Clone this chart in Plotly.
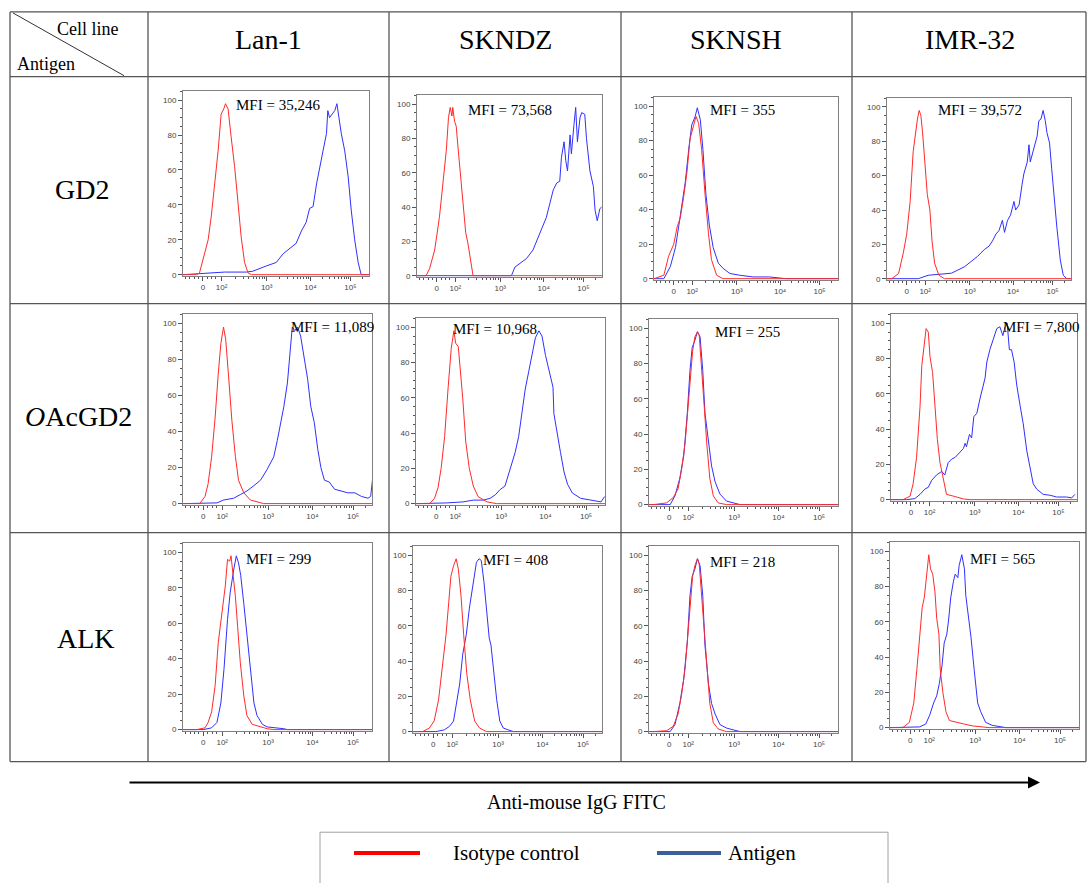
import math
import plotly.graph_objects as go

W, H = 1088, 883

# ---------------------------------------------------------------------------
# Labels
# ---------------------------------------------------------------------------
cell_lines = ["Lan-1", "SKNDZ", "SKNSH", "IMR-32"]
antigens = ["GD2", "<i>O</i>AcGD2", "ALK"]
mfi_labels = [
    ["35,246", "73,568", "355", "39,572"],
    ["11,089", "10,968", "255", "7,800"],
    ["299", "408", "218", "565"],
]

# Biexponential display axis: positions (in display units) of the labelled decades
x_tick_pos = [0, 0.43, 1.47, 2.48, 3.40]
x_tick_text = ["0", "10\u00b2", "10\u00b3", "10\u2074", "10\u2075"]
y_tick_pos = [0, 20, 40, 60, 80, 100]

# ---------------------------------------------------------------------------
# Histograms (x = display position on the FITC axis, y = % of max)
# ---------------------------------------------------------------------------
# GD2
gd2_lan1_iso_x = [-0.46, -0.15, -0.08, 0.12, 0.19, 0.27, 0.35, 0.42, 0.48, 0.52, 0.58, 0.65, 0.73, 0.81, 0.88, 0.96, 1.04, 1.12, 3.83]
gd2_lan1_iso_y = [0, 0, 1, 20, 33, 52, 71, 92, 95, 98, 95, 79, 62, 41, 22, 7, 1, 0, 0]
gd2_lan1_ag_x = [-0.46, -0.1, 0, 0.5, 1.0, 1.15, 1.46, 1.69, 1.85, 2.0, 2.15, 2.27, 2.38, 2.46, 2.54, 2.62, 2.69, 2.77, 2.85, 2.88, 2.92, 2.98, 3.04, 3.09, 3.14, 3.19, 3.27, 3.35, 3.42, 3.5, 3.58, 3.65, 3.83]
gd2_lan1_ag_y = [0, 0.5, 1, 1.5, 1.5, 2, 5, 7, 12, 15, 18, 25, 30, 38, 39, 52, 62, 71, 81, 94, 90, 92, 94, 98, 90, 81, 71, 56, 37, 20, 7, 0, 0]

gd2_skndz_iso_x = [-0.46, -0.25, -0.17, -0.05, 0.06, 0.14, 0.22, 0.27, 0.31, 0.35, 0.37, 0.41, 0.45, 0.49, 0.54, 0.6, 0.67, 0.72, 0.78, 0.84, 3.83]
gd2_skndz_iso_y = [0, 0, 4, 15, 34, 54, 73, 92, 98, 93, 98, 90, 87, 75, 61, 44, 25, 19, 8, 0, 0]
gd2_skndz_ag_x = [-0.46, 1.73, 1.81, 1.92, 2.08, 2.23, 2.39, 2.47, 2.54, 2.62, 2.7, 2.78, 2.85, 2.89, 2.95, 2.99, 3.03, 3.09, 3.12, 3.18, 3.22, 3.26, 3.32, 3.36, 3.43, 3.47, 3.55, 3.63, 3.67, 3.72, 3.78, 3.82]
gd2_skndz_ag_y = [0, 0, 5, 7, 10, 15, 25, 29, 34, 42, 50, 54, 55, 69, 78, 67, 61, 82, 71, 88, 98, 78, 92, 95, 94, 80, 61, 52, 38, 32, 39, 40]

gd2_sknsh_iso_x = [-0.46, -0.23, -0.12, 0, 0.08, 0.15, 0.23, 0.31, 0.38, 0.46, 0.52, 0.58, 0.65, 0.73, 0.81, 0.88, 1.0, 1.15, 3.83]
gd2_sknsh_iso_y = [0, 2, 13, 20, 30, 35, 47, 62, 81, 89, 94, 90, 75, 49, 26, 11, 2, 0, 0]
gd2_sknsh_ag_x = [-0.46, -0.23, -0.08, 0.04, 0.12, 0.19, 0.27, 0.35, 0.42, 0.5, 0.55, 0.62, 0.68, 0.75, 0.83, 0.92, 1.04, 1.15, 1.31, 1.54, 1.85, 2.23, 2.54, 2.62, 3.83]
gd2_sknsh_ag_y = [0, 0, 7, 18, 31, 43, 56, 75, 89, 94, 99, 92, 75, 49, 31, 18, 9, 6, 3, 2, 1, 1, 0.5, 0, 0]

gd2_imr32_iso_x = [-0.46, -0.35, -0.19, -0.08, 0, 0.08, 0.15, 0.19, 0.25, 0.29, 0.33, 0.37, 0.42, 0.48, 0.54, 0.59, 0.65, 0.75, 0.88, 3.83]
gd2_imr32_iso_y = [0, 0, 3, 15, 26, 45, 74, 83, 93, 98, 95, 85, 70, 49, 40, 22, 9, 2, 0, 0]
gd2_imr32_ag_x = [-0.46, -0.04, 0.27, 0.5, 0.73, 0.88, 1.04, 1.19, 1.35, 1.5, 1.65, 1.81, 1.92, 2.0, 2.08, 2.15, 2.23, 2.28, 2.35, 2.42, 2.5, 2.54, 2.62, 2.69, 2.73, 2.81, 2.85, 2.88, 2.96, 3.04, 3.08, 3.13, 3.18, 3.23, 3.27, 3.33, 3.38, 3.44, 3.5, 3.58, 3.65, 3.73, 3.83]
gd2_imr32_ag_y = [0, 0, 0, 2, 2.5, 3, 3.2, 5, 7, 10, 13, 17, 19, 22, 26, 28, 34, 27, 34, 37, 45, 40, 43, 55, 61, 68, 78, 68, 75, 83, 92, 93, 98, 92, 85, 79, 64, 45, 30, 11, 2, 0, 0]

# OAcGD2
oac_lan1_iso_x = [-0.46, -0.08, 0.04, 0.11, 0.19, 0.27, 0.34, 0.4, 0.46, 0.51, 0.57, 0.65, 0.73, 0.8, 0.92, 1.07, 1.37, 3.83]
oac_lan1_iso_y = [0, 0, 4, 11, 26, 48, 72, 89, 98, 91, 72, 46, 26, 13, 6, 2, 0, 0]
oac_lan1_ag_x = [-0.46, -0.04, 0.31, 0.46, 0.69, 0.84, 0.99, 1.15, 1.3, 1.45, 1.6, 1.68, 1.76, 1.83, 1.91, 1.97, 2.02, 2.08, 2.14, 2.21, 2.29, 2.37, 2.44, 2.52, 2.6, 2.67, 2.75, 2.86, 2.98, 3.13, 3.28, 3.44, 3.59, 3.74, 3.8, 3.84]
oac_lan1_ag_y = [0, 0, 0.4, 2, 3, 5, 7, 10, 13, 19, 26, 35, 45, 54, 67, 85, 98, 96, 98, 93, 82, 69, 54, 45, 30, 20, 13, 12, 8, 7, 6, 6, 4, 3, 4, 13]

oac_skndz_iso_x = [-0.46, -0.15, -0.04, 0.04, 0.11, 0.19, 0.27, 0.34, 0.4, 0.44, 0.5, 0.53, 0.6, 0.67, 0.75, 0.84, 0.95, 1.15, 1.37, 3.83]
oac_skndz_iso_y = [0, 0, 3, 9, 20, 38, 66, 88, 98, 91, 89, 81, 60, 35, 20, 10, 4, 1, 0, 0]
oac_skndz_ag_x = [-0.46, -0.08, 0.23, 0.61, 0.84, 1.07, 1.22, 1.34, 1.45, 1.56, 1.68, 1.79, 1.87, 1.95, 2.02, 2.1, 2.18, 2.25, 2.33, 2.4, 2.48, 2.56, 2.61, 2.65, 2.67, 2.75, 2.82, 2.9, 2.98, 3.09, 3.28, 3.51, 3.74, 3.82]
oac_skndz_ag_y = [0, 0, 0.4, 1, 2, 2, 3, 5, 8, 10, 20, 29, 38, 53, 65, 75, 86, 94, 98, 95, 84, 75, 70, 66, 51, 38, 29, 18, 11, 6, 3, 2, 1, 4]

oac_sknsh_iso_x = [-0.46, -0.36, -0.06, 0.09, 0.2, 0.28, 0.36, 0.43, 0.48, 0.53, 0.58, 0.64, 0.68, 0.73, 0.79, 0.85, 0.92, 1.0, 1.11, 1.3, 3.83]
oac_sknsh_iso_y = [0, 0, 1, 4, 9, 20, 35, 57, 76, 87, 95, 98, 96, 80, 57, 35, 15, 5, 1, 0, 0]
oac_sknsh_ag_x = [-0.46, 0.02, 0.13, 0.24, 0.33, 0.41, 0.47, 0.52, 0.58, 0.64, 0.7, 0.76, 0.81, 0.89, 0.96, 1.04, 1.15, 1.3, 1.45, 1.57, 1.61, 3.83]
oac_sknsh_ag_y = [0, 0, 5, 15, 28, 52, 76, 89, 93, 98, 95, 76, 52, 35, 22, 13, 6, 2, 1, 0.5, 0, 0]

oac_imr32_iso_x = [-0.46, -0.18, -0.02, 0.05, 0.13, 0.21, 0.25, 0.3, 0.35, 0.4, 0.44, 0.5, 0.55, 0.61, 0.67, 0.75, 0.82, 0.98, 1.21, 1.36, 3.83]
oac_imr32_iso_y = [0, 0, 2, 9, 24, 53, 76, 87, 97, 95, 81, 72, 53, 34, 21, 11, 3, 2, 0.4, 0, 0]
oac_imr32_ag_x = [-0.46, -0.1, 0.09, 0.21, 0.32, 0.4, 0.48, 0.59, 0.71, 0.78, 0.86, 0.94, 1.02, 1.09, 1.21, 1.25, 1.28, 1.35, 1.4, 1.45, 1.52, 1.59, 1.67, 1.71, 1.75, 1.82, 1.9, 1.98, 2.05, 2.12, 2.17, 2.22, 2.27, 2.32, 2.38, 2.44, 2.52, 2.59, 2.67, 2.75, 2.82, 2.9, 3.05, 3.21, 3.36, 3.59, 3.71, 3.78]
oac_imr32_ag_y = [0, 0, 0.6, 3, 6, 7, 11, 14, 16, 14, 21, 23, 24, 26, 29, 32, 30, 37, 35, 47, 49, 57, 66, 69, 78, 85, 91, 97, 98, 93, 98, 100, 85, 85, 78, 65, 53, 43, 28, 17, 9, 6, 3, 2.5, 1.5, 1.5, 1, 3]

# ALK
alk_lan1_iso_x = [-0.46, -0.15, 0.04, 0.11, 0.19, 0.27, 0.34, 0.42, 0.5, 0.55, 0.6, 0.63, 0.67, 0.73, 0.78, 0.84, 0.92, 0.99, 1.11, 1.3, 1.45, 1.6, 3.83]
alk_lan1_iso_y = [0, 0, 1, 4, 10, 25, 49, 66, 81, 96, 95, 98, 90, 75, 58, 38, 19, 8, 3, 1.5, 0.5, 0, 0]
alk_lan1_ag_x = [-0.46, 0, 0.19, 0.31, 0.4, 0.47, 0.55, 0.61, 0.69, 0.75, 0.8, 0.85, 0.92, 0.99, 1.07, 1.15, 1.22, 1.34, 1.45, 1.68, 1.83, 1.91, 3.83]
alk_lan1_ag_y = [0, 0, 1, 4, 15, 34, 62, 77, 90, 98, 94, 87, 71, 53, 32, 15, 8, 3, 1.5, 1, 0.5, 0, 0]

alk_skndz_iso_x = [-0.46, -0.24, -0.09, 0.02, 0.12, 0.21, 0.29, 0.35, 0.4, 0.46, 0.52, 0.57, 0.63, 0.69, 0.76, 0.84, 0.94, 1.05, 1.21, 3.83]
alk_skndz_iso_y = [0, 0, 2, 6, 18, 36, 55, 73, 88, 94, 98, 92, 77, 55, 33, 18, 6, 2, 0, 0]
alk_skndz_ag_x = [-0.46, 0.06, 0.25, 0.37, 0.46, 0.53, 0.6, 0.67, 0.75, 0.82, 0.9, 0.98, 1.04, 1.09, 1.15, 1.22, 1.27, 1.31, 1.36, 1.44, 1.51, 1.59, 1.7, 1.82, 3.83]
alk_skndz_ag_y = [0, 0, 1, 3, 6, 16, 27, 44, 55, 70, 83, 96, 98, 97, 85, 64, 53, 49, 36, 18, 6, 2, 1, 0, 0]

alk_sknsh_iso_x = [-0.46, -0.36, -0.06, 0.09, 0.2, 0.28, 0.36, 0.43, 0.48, 0.53, 0.58, 0.64, 0.68, 0.73, 0.79, 0.85, 0.92, 1.0, 1.11, 1.3, 3.83]
alk_sknsh_iso_y = [0, 0, 0.5, 3, 10, 21, 36, 58, 77, 88, 94, 98, 95, 79, 58, 36, 16, 5, 1.5, 0, 0]
alk_sknsh_ag_x = [-0.46, 0.02, 0.13, 0.24, 0.33, 0.41, 0.47, 0.52, 0.58, 0.64, 0.7, 0.76, 0.81, 0.89, 0.96, 1.04, 1.15, 1.3, 1.45, 1.57, 1.61, 3.83]
alk_sknsh_ag_y = [0, 0, 4, 16, 30, 51, 77, 88, 92, 98, 94, 77, 49, 27, 16, 10, 4, 2, 1, 0.5, 0, 0]

alk_imr32_iso_x = [-0.46, -0.17, -0.02, 0.08, 0.15, 0.21, 0.27, 0.32, 0.38, 0.42, 0.46, 0.51, 0.56, 0.6, 0.65, 0.68, 0.74, 0.81, 0.89, 1.04, 1.23, 1.41, 1.64, 1.79, 3.83]
alk_imr32_iso_y = [0, 0, 3, 14, 33, 51, 68, 74, 87, 98, 90, 87, 77, 62, 53, 33, 20, 9, 4, 3, 2, 1, 0.4, 0, 0]
alk_imr32_ag_x = [-0.46, -0.09, 0.21, 0.35, 0.44, 0.53, 0.6, 0.66, 0.72, 0.77, 0.83, 0.87, 0.92, 0.98, 1.02, 1.08, 1.11, 1.17, 1.23, 1.26, 1.32, 1.38, 1.45, 1.53, 1.6, 1.71, 1.86, 2.09, 2.17, 3.83]
alk_imr32_ag_y = [0, 0, 0.4, 2, 7, 14, 18, 25, 35, 48, 53, 61, 74, 83, 87, 85, 92, 98, 90, 75, 64, 51, 33, 14, 9, 3, 1.3, 0.4, 0, 0]

# Grid of (isotype, antigen) curves: rows = antigen, columns = cell line
curves = [
    [((gd2_lan1_iso_x, gd2_lan1_iso_y), (gd2_lan1_ag_x, gd2_lan1_ag_y)),
     ((gd2_skndz_iso_x, gd2_skndz_iso_y), (gd2_skndz_ag_x, gd2_skndz_ag_y)),
     ((gd2_sknsh_iso_x, gd2_sknsh_iso_y), (gd2_sknsh_ag_x, gd2_sknsh_ag_y)),
     ((gd2_imr32_iso_x, gd2_imr32_iso_y), (gd2_imr32_ag_x, gd2_imr32_ag_y))],
    [((oac_lan1_iso_x, oac_lan1_iso_y), (oac_lan1_ag_x, oac_lan1_ag_y)),
     ((oac_skndz_iso_x, oac_skndz_iso_y), (oac_skndz_ag_x, oac_skndz_ag_y)),
     ((oac_sknsh_iso_x, oac_sknsh_iso_y), (oac_sknsh_ag_x, oac_sknsh_ag_y)),
     ((oac_imr32_iso_x, oac_imr32_iso_y), (oac_imr32_ag_x, oac_imr32_ag_y))],
    [((alk_lan1_iso_x, alk_lan1_iso_y), (alk_lan1_ag_x, alk_lan1_ag_y)),
     ((alk_skndz_iso_x, alk_skndz_iso_y), (alk_skndz_ag_x, alk_skndz_ag_y)),
     ((alk_sknsh_iso_x, alk_sknsh_iso_y), (alk_sknsh_ag_x, alk_sknsh_ag_y)),
     ((alk_imr32_iso_x, alk_imr32_iso_y), (alk_imr32_ag_x, alk_imr32_ag_y))],
]

# ---------------------------------------------------------------------------
# Layout geometry (pixels)
# ---------------------------------------------------------------------------
col_edges = [10, 148, 389, 621, 852, 1086]
row_edges = [12, 77, 305, 535, 765]

# plot-area boxes (left, right, top, bottom) for each histogram panel
panel_boxes = [
    [(183, 369, 91, 277), (417, 602, 95, 278), (654, 838, 97, 281), (887, 1071, 98, 281)],
    [(183, 372, 315, 507), (416, 605, 319, 507), (649, 838, 320, 508), (891, 1077, 315, 503)],
    [(183, 372, 545, 734), (413, 602, 548, 736), (649, 838, 548, 736), (890, 1079, 544, 732)],
]
# MFI label centres (pixels)
mfi_pos = [
    [(278, 105), (510, 110), (742, 110), (980, 111)],
    [(332, 328), (495, 330), (747, 334), (1041, 328)],
    [(278, 562), (515, 563), (742, 565), (1002, 562)],
]

ISO_COLOR = "#ff2a2a"
AG_COLOR = "#2f2fff"
SERIF = "Liberation Serif"
SANS = "Liberation Sans, DejaVu Sans"


def px(x):
    return x / W


def py(y):
    return 1 - y / H


# minor ticks of the biexponential axis
x_minor = [-0.4, -0.3, -0.2, -0.1, 0.1, 0.2, 0.3]
for k in range(len(x_tick_pos) - 2):
    a, b = x_tick_pos[k + 1], x_tick_pos[k + 2]
    for m in range(2, 10):
        x_minor.append(a + math.log10(m) * (b - a))
x_minor.append(x_tick_pos[-1] + math.log10(2) * (x_tick_pos[-1] - x_tick_pos[-2]))

tick_font = dict(family=SANS, size=8, color="#444")

fig = go.Figure()
layout_axes = {}
idx = 0
for r in range(3):
    for c in range(4):
        idx += 1
        sfx = "" if idx == 1 else str(idx)
        (ix, iy), (ax_, ay_) = curves[r][c]
        fig.add_trace(go.Scatter(x=ax_, y=ay_, mode="lines",
                                 line=dict(color=AG_COLOR, width=1),
                                 xaxis="x" + sfx, yaxis="y" + sfx,
                                 showlegend=False, hoverinfo="skip"))
        fig.add_trace(go.Scatter(x=ix, y=iy, mode="lines",
                                 line=dict(color=ISO_COLOR, width=1),
                                 xaxis="x" + sfx, yaxis="y" + sfx,
                                 showlegend=False, hoverinfo="skip"))
        l, rr, t, b = panel_boxes[r][c]
        layout_axes["xaxis" + sfx] = dict(
            domain=[px(l), px(rr)], anchor="y" + sfx, range=[-0.46, 3.83],
            tickmode="array", tickvals=x_tick_pos, ticktext=x_tick_text,
            ticks="outside", ticklen=4, tickcolor="#555", tickwidth=1,
            tickfont=tick_font,
            showline=True, mirror=True, linecolor="#808080", linewidth=1,
            showgrid=False, zeroline=False, layer="below traces",
            minor=dict(tickvals=x_minor, ticks="outside", ticklen=2,
                       tickcolor="#555", showgrid=False),
        )
        layout_axes["yaxis" + sfx] = dict(
            domain=[py(b), py(t)], anchor="x" + sfx, range=[-0.6, 105.5],
            tickmode="array", tickvals=y_tick_pos,
            ticks="outside", ticklen=4, tickcolor="#555", tickwidth=1,
            tickfont=tick_font,
            showline=True, mirror=True, linecolor="#808080", linewidth=1,
            showgrid=False, zeroline=False, layer="below traces",
            minor=dict(dtick=5, ticks="outside", ticklen=2,
                       tickcolor="#555", showgrid=False),
        )

shapes = []
line_style = dict(color="#555555", width=1.3)
for x in col_edges:
    shapes.append(dict(type="line", xref="paper", yref="paper",
                       x0=px(x), x1=px(x), y0=py(row_edges[0]), y1=py(row_edges[-1]),
                       line=line_style))
for y in row_edges:
    shapes.append(dict(type="line", xref="paper", yref="paper",
                       x0=px(col_edges[0]), x1=px(col_edges[-1]), y0=py(y), y1=py(y),
                       line=line_style))
# diagonal in the corner header cell
shapes.append(dict(type="line", xref="paper", yref="paper",
                   x0=px(13), y0=py(13), x1=px(124), y1=py(76),
                   line=dict(color="#333", width=1)))
# legend box
shapes.append(dict(type="rect", xref="paper", yref="paper",
                   x0=px(320), x1=px(888), y0=py(836), y1=py(895),
                   line=dict(color="#a0a0a0", width=1)))
shapes.append(dict(type="line", xref="paper", yref="paper",
                   x0=px(354), x1=px(420), y0=py(857), y1=py(857),
                   line=dict(color="#ff0000", width=4)))
shapes.append(dict(type="line", xref="paper", yref="paper",
                   x0=px(657), x1=px(721), y0=py(857), y1=py(857),
                   line=dict(color="#3c5f9c", width=4)))

annotations = []


def text(x, y, s, size, xanchor="center", family=SERIF, color="#000"):
    annotations.append(dict(x=px(x), y=py(y), xref="paper", yref="paper",
                            text=s, showarrow=False, xanchor=xanchor,
                            yanchor="middle",
                            font=dict(family=family, size=size, color=color)))


text(88, 29, "Cell line", 18)
text(46, 64, "Antigen", 18)
for name, cx in zip(cell_lines, [268, 505, 736, 970]):
    text(cx, 40, name, 28)
for name, (cx, cy) in zip(antigens, [(82, 190), (78, 418), (86, 641)]):
    text(cx, cy, name, 28)
for r in range(3):
    for c in range(4):
        x, y = mfi_pos[r][c]
        text(x, y, "MFI = " + mfi_labels[r][c], 15)

# FITC axis arrow and title
annotations.append(dict(x=px(1040), y=py(786), xref="paper", yref="paper",
                        ax=-(1040 - 128), ay=0, text="", showarrow=True,
                        arrowhead=2, arrowsize=1.2, arrowwidth=2, arrowcolor="#000"))
text(576, 806, "Anti-mouse IgG FITC", 20)
text(451, 857, "Isotype control", 21, xanchor="left")
text(726, 857, "Antigen", 21, xanchor="left")

fig.update_layout(
    width=W, height=H, margin=dict(l=0, r=0, t=0, b=0),
    paper_bgcolor="white", plot_bgcolor="white",
    shapes=shapes, annotations=annotations, showlegend=False,
    **layout_axes,
)

fig.write_html("out.html")
